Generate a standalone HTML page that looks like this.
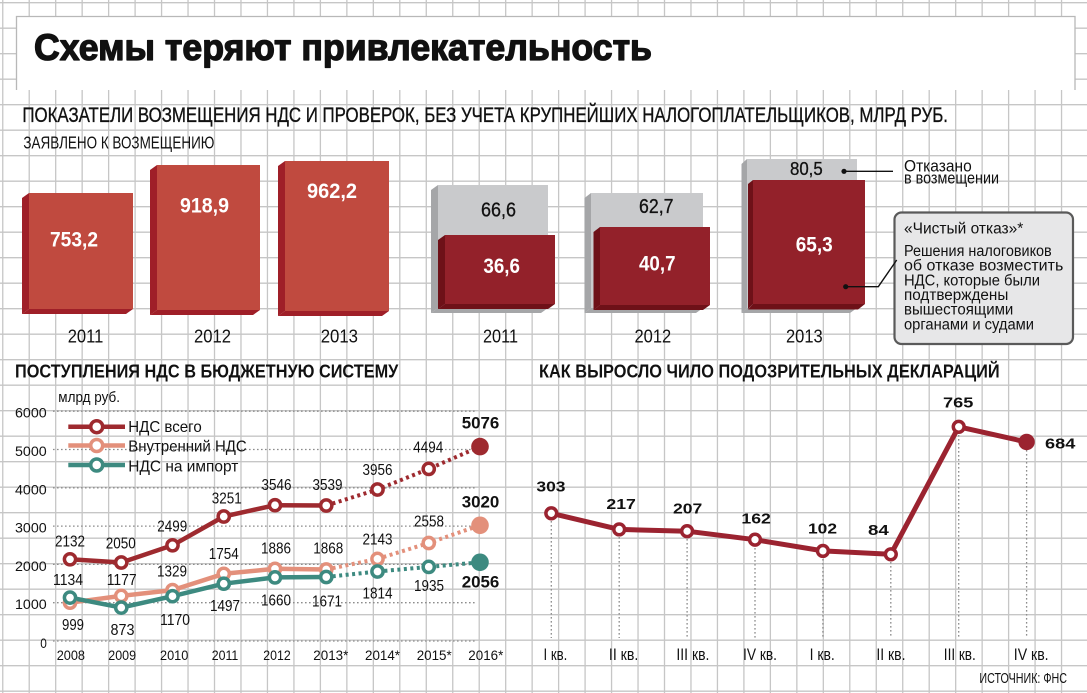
<!DOCTYPE html>
<html><head><meta charset="utf-8"><style>
html,body{margin:0;padding:0;background:#fff;}
svg{display:block;}
text{font-family:"Liberation Sans","DejaVu Sans",sans-serif;fill:#111;}
</style></head><body>
<svg width="1087" height="693" viewBox="0 0 1087 693" xmlns="http://www.w3.org/2000/svg">
<rect width="1087" height="693" fill="#fff"/>
<!-- grid -->
<path stroke="#c6c6c6" stroke-width="1.3" fill="none" d="M2.75 0V693M29.22 0V693M55.69 0V693M82.16 0V693M108.63 0V693M135.1 0V693M161.57 0V693M188.04 0V693M214.51 0V693M240.98 0V693M267.45 0V693M293.92 0V693M320.39 0V693M346.86 0V693M373.33 0V693M399.8 0V693M426.27 0V693M452.74 0V693M479.21 0V693M505.68 0V693M532.15 0V693M558.62 0V693M585.09 0V693M611.56 0V693M638.03 0V693M664.5 0V693M690.97 0V693M717.44 0V693M743.91 0V693M770.38 0V693M796.85 0V693M823.32 0V693M849.79 0V693M876.26 0V693M902.73 0V693M929.2 0V693M955.67 0V693M982.14 0V693M1008.61 0V693M1035.08 0V693M1061.55 0V693
M0 2.7H1087M0 28.2H1087M0 53.7H1087M0 79.2H1087M0 104.7H1087M0 130.2H1087M0 155.7H1087M0 181.2H1087M0 206.7H1087M0 232.2H1087M0 257.7H1087M0 283.2H1087M0 308.7H1087M0 334.2H1087M0 359.7H1087M0 385.2H1087M0 410.7H1087M0 436.2H1087M0 461.7H1087M0 487.2H1087M0 512.7H1087M0 538.2H1087M0 563.7H1087M0 589.2H1087M0 614.7H1087M0 640.2H1087M0 665.7H1087M0 691.2H1087"/>

<!-- title box -->
<rect x="16" y="16" width="1059" height="74" fill="#fff"/>
<path d="M16.5 90V16.5H1075V90" fill="none" stroke="#b8b8b8" stroke-width="1.3"/>
<text x="34" y="60" font-size="37" font-weight="bold" stroke="#111" stroke-width="1.3" stroke-linejoin="round" textLength="618" lengthAdjust="spacingAndGlyphs">Схемы теряют привлекательность</text>

<text x="22.4" y="122" font-size="21.5" stroke="#111" stroke-width="0.35" textLength="925.6" lengthAdjust="spacingAndGlyphs">ПОКАЗАТЕЛИ ВОЗМЕЩЕНИЯ НДС И ПРОВЕРОК, БЕЗ УЧЕТА КРУПНЕЙШИХ НАЛОГОПЛАТЕЛЬЩИКОВ,  МЛРД РУБ.</text>
<text x="23.4" y="148.3" font-size="17.5" textLength="191" lengthAdjust="spacingAndGlyphs">ЗАЯВЛЕНО К ВОЗМЕЩЕНИЮ</text>

<!-- left bars -->
<g>
<polygon points="29,193 22,198 22,314 29,309" fill="#9f1f28"/>
<polygon points="29,309 133,309 126,314 22,314" fill="#9f1f28"/>
<rect x="29" y="193" width="104" height="116" fill="#c04a3f"/>
<polygon points="157,165 150,170 150,315 157,310" fill="#9f1f28"/>
<polygon points="157,310 260,310 253,315 150,315" fill="#9f1f28"/>
<rect x="157" y="165" width="103" height="145" fill="#c04a3f"/>
<polygon points="285,161 278,166 278,316 285,311" fill="#9f1f28"/>
<polygon points="285,311 389,311 382,316 278,316" fill="#9f1f28"/>
<rect x="285" y="161" width="104" height="150" fill="#c04a3f"/>
</g>
<g font-weight="bold" font-size="21">
<text x="50" y="246.7" textLength="48" lengthAdjust="spacingAndGlyphs" style="fill:#fff">753,2</text>
<text x="180" y="212.7" textLength="49" lengthAdjust="spacingAndGlyphs" style="fill:#fff">918,9</text>
<text x="307" y="198" textLength="50" lengthAdjust="spacingAndGlyphs" style="fill:#fff">962,2</text>
</g>
<g font-size="18.5">
<text x="67.7" y="342.6" textLength="35.6" lengthAdjust="spacingAndGlyphs">2011</text>
<text x="194" y="342.6" textLength="37" lengthAdjust="spacingAndGlyphs">2012</text>
<text x="320.7" y="342.6" textLength="37.3" lengthAdjust="spacingAndGlyphs">2013</text>
</g>

<!-- right bars -->
<g>
<polygon points="438,185 431,190 431,313 438,308" fill="#a5a6a8"/>
<polygon points="438,308 548,308 541,313 431,313" fill="#a5a6a8"/>
<rect x="438" y="185" width="110" height="123" fill="#c9cacc"/>
<polygon points="445,235 438,240 438,309 445,304" fill="#6e1118"/>
<polygon points="445,304 555,304 548,309 438,309" fill="#6e1118"/>
<rect x="445" y="235" width="110" height="69" fill="#93212a"/>

<polygon points="591,193 584.5,198 584.5,313 591,308" fill="#a5a6a8"/>
<polygon points="591,308 703,308 696,313 584.5,313" fill="#a5a6a8"/>
<rect x="591" y="193" width="112" height="115" fill="#c9cacc"/>
<polygon points="600,227 593.5,232 593.5,310 600,305" fill="#6e1118"/>
<polygon points="600,305 710,305 703,310 593.5,310" fill="#6e1118"/>
<rect x="600" y="227" width="110" height="78" fill="#93212a"/>

<polygon points="747,159 741.5,164 741.5,313 747,308" fill="#a5a6a8"/>
<polygon points="747,308 857,308 850,313 741.5,313" fill="#a5a6a8"/>
<rect x="747" y="159" width="110" height="149" fill="#c9cacc"/>
<polygon points="753,180 748,184 748,309 753,304" fill="#6e1118"/>
<polygon points="753,304 865,304 858,309.5 748,309.5" fill="#6e1118"/>
<rect x="753" y="180" width="112" height="124" fill="#93212a"/>
</g>
<g font-size="20">
<text x="481" y="216.7" textLength="35" lengthAdjust="spacingAndGlyphs" stroke="#111" stroke-width="0.3">66,6</text>
<text x="639" y="213" textLength="34.5" lengthAdjust="spacingAndGlyphs" stroke="#111" stroke-width="0.3">62,7</text>
<text x="790" y="175" font-size="18.5" textLength="32.7" lengthAdjust="spacingAndGlyphs" stroke="#111" stroke-width="0.3">80,5</text>
</g>
<g font-size="21" font-weight="bold">
<text x="483.4" y="273" textLength="36.6" lengthAdjust="spacingAndGlyphs" style="fill:#fff">36,6</text>
<text x="639" y="270.7" textLength="36.5" lengthAdjust="spacingAndGlyphs" style="fill:#fff">40,7</text>
<text x="795.7" y="251.7" textLength="37" lengthAdjust="spacingAndGlyphs" style="fill:#fff">65,3</text>
</g>
<g font-size="18.5">
<text x="483" y="342.6" textLength="35" lengthAdjust="spacingAndGlyphs">2011</text>
<text x="634.5" y="342.6" textLength="36.7" lengthAdjust="spacingAndGlyphs">2012</text>
<text x="786" y="342.6" textLength="36.7" lengthAdjust="spacingAndGlyphs">2013</text>
</g>

<!-- annotations -->
<circle cx="844" cy="171.3" r="2.6" fill="#111"/>
<line x1="844" y1="171.3" x2="893" y2="171.3" stroke="#111" stroke-width="1.4"/>
<text x="904" y="171.7" font-size="16.5" textLength="67.7" lengthAdjust="spacingAndGlyphs">Отказано</text>
<text x="904" y="183.5" font-size="16.5" textLength="95" lengthAdjust="spacingAndGlyphs">в возмещении</text>

<rect x="894.5" y="212.5" width="178.5" height="131.5" rx="7" ry="7" fill="#e7e7e8" stroke="#5a5a5a" stroke-width="2.2"/>
<circle cx="845.7" cy="286.7" r="2.6" fill="#111"/>
<polyline points="845.7,286.7 878.3,286.7 896.7,260" fill="none" stroke="#111" stroke-width="1.4"/>
<g font-size="15.5">
<text x="904" y="233.3" textLength="119.3" lengthAdjust="spacingAndGlyphs">«Чистый отказ»*</text>
<text x="904" y="256" textLength="147.7" lengthAdjust="spacingAndGlyphs">Решения налоговиков</text>
<text x="904" y="270.7" textLength="159.3" lengthAdjust="spacingAndGlyphs">об отказе возместить</text>
<text x="904" y="285.3" textLength="136" lengthAdjust="spacingAndGlyphs">НДС, которые были</text>
<text x="904" y="300" textLength="104.3" lengthAdjust="spacingAndGlyphs">подтверждены</text>
<text x="904" y="314.7" textLength="109.3" lengthAdjust="spacingAndGlyphs">вышестоящими</text>
<text x="904" y="329.3" textLength="130" lengthAdjust="spacingAndGlyphs">органами и судами</text>
</g>

<!-- bottom titles -->
<text x="15" y="377.7" font-size="18.4" font-weight="bold" textLength="383.3" lengthAdjust="spacingAndGlyphs">ПОСТУПЛЕНИЯ НДС В БЮДЖЕТНУЮ СИСТЕМУ</text>
<text x="539" y="377.7" font-size="18.4" font-weight="bold" textLength="460.6" lengthAdjust="spacingAndGlyphs">КАК ВЫРОСЛО ЧИЛО ПОДОЗРИТЕЛЬНЫХ ДЕКЛАРАЦИЙ</text>

<!-- left chart -->
<text x="58.3" y="402" font-size="15" textLength="61.7" lengthAdjust="spacingAndGlyphs">млрд руб.</text>
<path d="M53 411.2H477M53 449.5H477M53 487.8H477M53 526.1H477M53 564.4H477M53 602.7H477M53 641H477" stroke="#8c8c8c" stroke-width="1.3" stroke-dasharray="1.6 2.4" fill="none"/>
<g font-size="14">
<text x="15" y="417.7" textLength="31.7" lengthAdjust="spacingAndGlyphs">6000</text>
<text x="15" y="456" textLength="31.7" lengthAdjust="spacingAndGlyphs">5000</text>
<text x="15" y="494.3" textLength="31.7" lengthAdjust="spacingAndGlyphs">4000</text>
<text x="15" y="532.6" textLength="31.7" lengthAdjust="spacingAndGlyphs">3000</text>
<text x="15" y="570.9" textLength="31.7" lengthAdjust="spacingAndGlyphs">2000</text>
<text x="15" y="609.2" textLength="31.7" lengthAdjust="spacingAndGlyphs">1000</text>
<text x="40.3" y="647.8" textLength="6.6" lengthAdjust="spacingAndGlyphs">0</text>
</g>
<g font-size="14">
<text x="56.7" y="660" textLength="28.3" lengthAdjust="spacingAndGlyphs">2008</text>
<text x="108.3" y="660" textLength="27.7" lengthAdjust="spacingAndGlyphs">2009</text>
<text x="160" y="660" textLength="28.3" lengthAdjust="spacingAndGlyphs">2010</text>
<text x="211.7" y="660" textLength="26.6" lengthAdjust="spacingAndGlyphs">2011</text>
<text x="263.3" y="660" textLength="27.4" lengthAdjust="spacingAndGlyphs">2012</text>
<text x="313.3" y="660" textLength="35" lengthAdjust="spacingAndGlyphs">2013*</text>
<text x="365" y="660" textLength="35" lengthAdjust="spacingAndGlyphs">2014*</text>
<text x="416.7" y="660" textLength="35" lengthAdjust="spacingAndGlyphs">2015*</text>
<text x="468.3" y="660" textLength="35" lengthAdjust="spacingAndGlyphs">2016*</text>
</g>

<!-- legend -->
<line x1="68.3" y1="426.7" x2="125" y2="426.7" stroke="#9e2a2f" stroke-width="4.5"/>
<circle cx="96.7" cy="426.7" r="6" fill="#fff" stroke="#9e2a2f" stroke-width="3.5"/>
<line x1="68.3" y1="445.5" x2="125" y2="445.5" stroke="#e3907b" stroke-width="4.5"/>
<circle cx="96.7" cy="445.5" r="6" fill="#fff" stroke="#e3907b" stroke-width="3.5"/>
<line x1="68.3" y1="465" x2="125" y2="465" stroke="#3d8a80" stroke-width="4.5"/>
<circle cx="96.7" cy="465" r="6" fill="#fff" stroke="#3d8a80" stroke-width="3.5"/>
<g font-size="16">
<text x="128.3" y="432" textLength="73.4" lengthAdjust="spacingAndGlyphs">НДС всего</text>
<text x="128.3" y="451.7" textLength="118.4" lengthAdjust="spacingAndGlyphs">Внутренний НДС</text>
<text x="128.3" y="471.5" textLength="110" lengthAdjust="spacingAndGlyphs">НДС на импорт</text>
</g>

<!-- series: total -->
<polyline points="70,559.3 121.25,562.5 172.5,545.3 223.75,516.5 275,505.2 326.25,505.5" fill="none" stroke="#9e2a2f" stroke-width="4.5" stroke-linejoin="round"/>
<polyline points="326.25,505.5 377.5,489.5 428.75,468.9 480,446.6" fill="none" stroke="#9e2a2f" stroke-width="4" stroke-dasharray="3 3.5"/>
<!-- domestic -->
<polyline points="70,602.7 121.25,595.9 172.5,590.1 223.75,573.8 275,568.8 326.25,569.5" fill="none" stroke="#e3907b" stroke-width="4.5" stroke-linejoin="round"/>
<polyline points="326.25,569.5 377.5,558.9 428.75,543 480,525.3" fill="none" stroke="#e3907b" stroke-width="4" stroke-dasharray="3 3.5"/>
<!-- import -->
<polyline points="70,597.6 121.25,607.6 172.5,596.2 223.75,583.7 275,577.4 326.25,577" fill="none" stroke="#3d8a80" stroke-width="4.5" stroke-linejoin="round"/>
<polyline points="326.25,577 377.5,571.5 428.75,566.9 480,562.3" fill="none" stroke="#3d8a80" stroke-width="4" stroke-dasharray="3 3.5"/>

<g fill="#fff" stroke-width="3.5">
<g stroke="#9e2a2f">
<circle cx="70" cy="559.3" r="5.6"/><circle cx="121.25" cy="562.5" r="5.6"/><circle cx="172.5" cy="545.3" r="5.6"/><circle cx="223.75" cy="516.5" r="5.6"/><circle cx="275" cy="505.2" r="5.6"/><circle cx="326.25" cy="505.5" r="5.6"/><circle cx="377.5" cy="489.5" r="5.6"/><circle cx="428.75" cy="468.9" r="5.6"/>
</g>
<g stroke="#e3907b">
<circle cx="70" cy="602.7" r="5.6"/><circle cx="121.25" cy="595.9" r="5.6"/><circle cx="172.5" cy="590.1" r="5.6"/><circle cx="223.75" cy="573.8" r="5.6"/><circle cx="275" cy="568.8" r="5.6"/><circle cx="326.25" cy="569.5" r="5.6"/><circle cx="377.5" cy="558.9" r="5.6"/><circle cx="428.75" cy="543" r="5.6"/>
</g>
<g stroke="#3d8a80">
<circle cx="70" cy="597.6" r="5.6"/><circle cx="121.25" cy="607.6" r="5.6"/><circle cx="172.5" cy="596.2" r="5.6"/><circle cx="223.75" cy="583.7" r="5.6"/><circle cx="275" cy="577.4" r="5.6"/><circle cx="326.25" cy="577" r="5.6"/><circle cx="377.5" cy="571.5" r="5.6"/><circle cx="428.75" cy="566.9" r="5.6"/>
</g>
</g>
<circle cx="480" cy="446.6" r="8.8" fill="#9e2a2f"/>
<circle cx="480" cy="525.3" r="8.8" fill="#e3907b"/>
<circle cx="480" cy="562.3" r="8.8" fill="#3d8a80"/>

<g font-size="16">
<text x="55" y="546.7" textLength="30" lengthAdjust="spacingAndGlyphs">2132</text>
<text x="105.7" y="548.3" textLength="30" lengthAdjust="spacingAndGlyphs">2050</text>
<text x="157.3" y="531.7" textLength="30" lengthAdjust="spacingAndGlyphs">2499</text>
<text x="211.7" y="503.3" textLength="30" lengthAdjust="spacingAndGlyphs">3251</text>
<text x="261.5" y="490" textLength="30" lengthAdjust="spacingAndGlyphs">3546</text>
<text x="312.5" y="490" textLength="30" lengthAdjust="spacingAndGlyphs">3539</text>
<text x="362.5" y="475" textLength="30" lengthAdjust="spacingAndGlyphs">3956</text>
<text x="413.3" y="452.3" textLength="30" lengthAdjust="spacingAndGlyphs">4494</text>
<text x="53" y="585" textLength="30" lengthAdjust="spacingAndGlyphs">1134</text>
<text x="106.7" y="585" textLength="30" lengthAdjust="spacingAndGlyphs">1177</text>
<text x="157" y="576.7" textLength="30" lengthAdjust="spacingAndGlyphs">1329</text>
<text x="208.8" y="559" textLength="30" lengthAdjust="spacingAndGlyphs">1754</text>
<text x="261" y="553.3" textLength="30" lengthAdjust="spacingAndGlyphs">1886</text>
<text x="313.3" y="553.3" textLength="30" lengthAdjust="spacingAndGlyphs">1868</text>
<text x="362.5" y="544.3" textLength="30" lengthAdjust="spacingAndGlyphs">2143</text>
<text x="414" y="526.7" textLength="30" lengthAdjust="spacingAndGlyphs">2558</text>
<text x="62" y="630" textLength="22" lengthAdjust="spacingAndGlyphs">999</text>
<text x="110.5" y="635" textLength="24" lengthAdjust="spacingAndGlyphs">873</text>
<text x="160" y="625" textLength="30" lengthAdjust="spacingAndGlyphs">1170</text>
<text x="210" y="611" textLength="30" lengthAdjust="spacingAndGlyphs">1497</text>
<text x="261" y="605.7" textLength="30" lengthAdjust="spacingAndGlyphs">1660</text>
<text x="312" y="606.7" textLength="30" lengthAdjust="spacingAndGlyphs">1671</text>
<text x="362.5" y="598.3" textLength="30" lengthAdjust="spacingAndGlyphs">1814</text>
<text x="414" y="591" textLength="30" lengthAdjust="spacingAndGlyphs">1935</text>
</g>
<g font-size="17" font-weight="bold">
<text x="461.7" y="428.3" textLength="37.6" lengthAdjust="spacingAndGlyphs">5076</text>
<text x="461.7" y="507.7" textLength="37.6" lengthAdjust="spacingAndGlyphs">3020</text>
<text x="461.7" y="587.7" textLength="37.6" lengthAdjust="spacingAndGlyphs">2056</text>
</g>

<!-- right chart -->
<path d="M551.3 513V638M619.2 529V638M687.1 531V638M755 540V638M822.9 551V638M890.8 554V638M958.7 427V638M1026.6 442V638" stroke="#8c8c8c" stroke-width="1.3" stroke-dasharray="1.6 2.4" fill="none"/>
<polyline points="551.3,513.3 619.2,529.4 687.1,531.2 755,539.7 822.9,550.9 890.8,554.3 958.7,426.8 1026.6,442" fill="none" stroke="#9b2330" stroke-width="5" stroke-linejoin="round"/>
<g fill="#fff" stroke="#9b2330" stroke-width="3.5">
<circle cx="551.3" cy="513.3" r="5.4"/><circle cx="619.2" cy="529.4" r="5.4"/><circle cx="687.1" cy="531.2" r="5.4"/><circle cx="755" cy="539.7" r="5.4"/><circle cx="822.9" cy="550.9" r="5.4"/><circle cx="890.8" cy="554.3" r="5.4"/><circle cx="958.7" cy="426.8" r="5.4"/>
</g>
<circle cx="1026.6" cy="442" r="8.2" fill="#9b2330"/>
<g font-size="15" font-weight="bold">
<text x="536.4" y="491.7" textLength="29.1" lengthAdjust="spacingAndGlyphs">303</text>
<text x="606.4" y="509" textLength="29.5" lengthAdjust="spacingAndGlyphs">217</text>
<text x="673" y="513.3" textLength="29.3" lengthAdjust="spacingAndGlyphs">207</text>
<text x="741.4" y="523.3" textLength="29.5" lengthAdjust="spacingAndGlyphs">162</text>
<text x="808" y="533.3" textLength="29" lengthAdjust="spacingAndGlyphs">102</text>
<text x="868" y="535" textLength="20.8" lengthAdjust="spacingAndGlyphs">84</text>
<text x="943" y="407.7" textLength="30.3" lengthAdjust="spacingAndGlyphs">765</text>
<text x="1045" y="448.3" textLength="30.3" lengthAdjust="spacingAndGlyphs">684</text>
</g>
<g font-size="17">
<text x="543.5" y="660" textLength="23.8" lengthAdjust="spacingAndGlyphs">I кв.</text>
<text x="608.9" y="660" textLength="29.4" lengthAdjust="spacingAndGlyphs">II кв.</text>
<text x="676.4" y="660" textLength="33" lengthAdjust="spacingAndGlyphs">III кв.</text>
<text x="743" y="660" textLength="34" lengthAdjust="spacingAndGlyphs">IV кв.</text>
<text x="809.6" y="660" textLength="25.2" lengthAdjust="spacingAndGlyphs">I кв.</text>
<text x="876.4" y="660" textLength="29.1" lengthAdjust="spacingAndGlyphs">II кв.</text>
<text x="943.8" y="660" textLength="32" lengthAdjust="spacingAndGlyphs">III кв.</text>
<text x="1013.8" y="660" textLength="34.8" lengthAdjust="spacingAndGlyphs">IV кв.</text>
</g>
<text x="979.4" y="683" font-size="15" textLength="87.6" lengthAdjust="spacingAndGlyphs">ИСТОЧНИК: ФНС</text>
</svg>
</body></html>
